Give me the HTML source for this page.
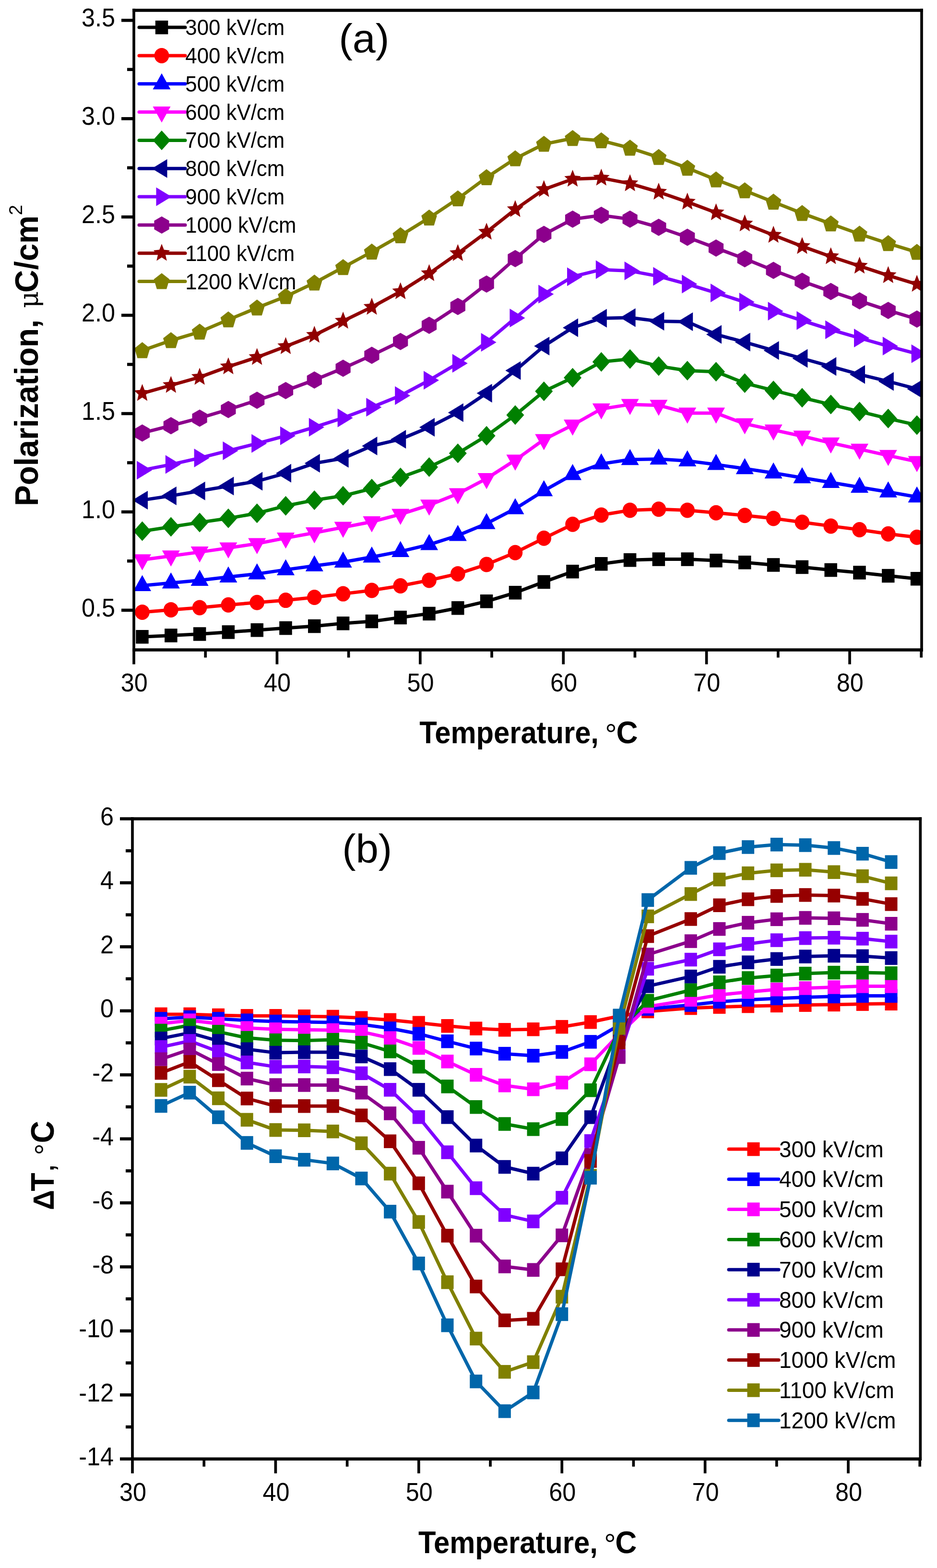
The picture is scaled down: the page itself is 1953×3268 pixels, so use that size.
<!DOCTYPE html>
<html><head><meta charset="utf-8"><title>Polarization and ΔT vs Temperature</title>
<style>html,body{margin:0;padding:0;background:#fff;}svg{display:block;}</style>
</head><body>
<svg width="1953" height="3268" viewBox="0 0 1953 3268">
<rect width="1953" height="3268" fill="#fff"/>
<defs><clipPath id="ca"><rect x="279.0" y="21.4" width="1642.0" height="1333.1"/></clipPath><clipPath id="cb"><rect x="276.0" y="1706.5" width="1642.3" height="1334.1999999999998"/></clipPath></defs>
<g stroke-linejoin="round" stroke-linecap="round" clip-path="url(#ca)">
<polyline points="296.5,1327.3 356.3,1324.4 416.1,1321.4 475.9,1317.4 535.7,1313.3 595.5,1309 655.3,1305 715.1,1299.3 774.9,1295.1 834.7,1287 894.5,1278.9 954.3,1267.3 1014.1,1253.3 1073.9,1235.3 1133.7,1212.9 1193.5,1191.2 1253.3,1175.3 1313.1,1167.2 1372.9,1165.6 1432.7,1165.6 1492.5,1168.3 1552.3,1172.2 1612.1,1177.4 1671.9,1181.9 1731.7,1188 1791.5,1193.5 1851.3,1200.1 1911.1,1206.2" fill="none" stroke="#000000" stroke-width="7"/>
<rect x="283.2" y="1313" width="26.5" height="28.5" fill="#000000"/>
<rect x="343.1" y="1310.2" width="26.5" height="28.5" fill="#000000"/>
<rect x="402.9" y="1307.2" width="26.5" height="28.5" fill="#000000"/>
<rect x="462.6" y="1303.2" width="26.5" height="28.5" fill="#000000"/>
<rect x="522.5" y="1299" width="26.5" height="28.5" fill="#000000"/>
<rect x="582.2" y="1294.8" width="26.5" height="28.5" fill="#000000"/>
<rect x="642" y="1290.8" width="26.5" height="28.5" fill="#000000"/>
<rect x="701.8" y="1285" width="26.5" height="28.5" fill="#000000"/>
<rect x="761.6" y="1280.8" width="26.5" height="28.5" fill="#000000"/>
<rect x="821.4" y="1272.8" width="26.5" height="28.5" fill="#000000"/>
<rect x="881.2" y="1264.7" width="26.5" height="28.5" fill="#000000"/>
<rect x="941" y="1253" width="26.5" height="28.5" fill="#000000"/>
<rect x="1000.8" y="1239" width="26.5" height="28.5" fill="#000000"/>
<rect x="1060.7" y="1221" width="26.5" height="28.5" fill="#000000"/>
<rect x="1120.4" y="1198.7" width="26.5" height="28.5" fill="#000000"/>
<rect x="1180.2" y="1177" width="26.5" height="28.5" fill="#000000"/>
<rect x="1240" y="1161" width="26.5" height="28.5" fill="#000000"/>
<rect x="1299.8" y="1153" width="26.5" height="28.5" fill="#000000"/>
<rect x="1359.6" y="1151.3" width="26.5" height="28.5" fill="#000000"/>
<rect x="1419.5" y="1151.3" width="26.5" height="28.5" fill="#000000"/>
<rect x="1479.2" y="1154" width="26.5" height="28.5" fill="#000000"/>
<rect x="1539" y="1158" width="26.5" height="28.5" fill="#000000"/>
<rect x="1598.8" y="1163.2" width="26.5" height="28.5" fill="#000000"/>
<rect x="1658.6" y="1167.7" width="26.5" height="28.5" fill="#000000"/>
<rect x="1718.4" y="1173.8" width="26.5" height="28.5" fill="#000000"/>
<rect x="1778.2" y="1179.2" width="26.5" height="28.5" fill="#000000"/>
<rect x="1838" y="1185.8" width="26.5" height="28.5" fill="#000000"/>
<rect x="1897.8" y="1192" width="26.5" height="28.5" fill="#000000"/>
<polyline points="296.5,1275.9 356.3,1270.9 416.1,1266.4 475.9,1260.8 535.7,1255.7 595.5,1251.1 655.3,1245 715.1,1237.6 774.9,1230.4 834.7,1221 894.5,1209.4 954.3,1195.9 1014.1,1176.5 1073.9,1151.7 1133.7,1121.8 1193.5,1092.8 1253.3,1073.4 1313.1,1063.4 1372.9,1061.3 1432.7,1063.4 1492.5,1068.8 1552.3,1074.3 1612.1,1080.4 1671.9,1088.5 1731.7,1096.4 1791.5,1104 1851.3,1112.8 1911.1,1119.8" fill="none" stroke="#FF0000" stroke-width="7"/>
<ellipse cx="296.5" cy="1275.9" rx="15.3" ry="16" fill="#FF0000"/>
<ellipse cx="356.3" cy="1270.9" rx="15.3" ry="16" fill="#FF0000"/>
<ellipse cx="416.1" cy="1266.4" rx="15.3" ry="16" fill="#FF0000"/>
<ellipse cx="475.9" cy="1260.8" rx="15.3" ry="16" fill="#FF0000"/>
<ellipse cx="535.7" cy="1255.7" rx="15.3" ry="16" fill="#FF0000"/>
<ellipse cx="595.5" cy="1251.1" rx="15.3" ry="16" fill="#FF0000"/>
<ellipse cx="655.3" cy="1245" rx="15.3" ry="16" fill="#FF0000"/>
<ellipse cx="715.1" cy="1237.6" rx="15.3" ry="16" fill="#FF0000"/>
<ellipse cx="774.9" cy="1230.4" rx="15.3" ry="16" fill="#FF0000"/>
<ellipse cx="834.7" cy="1221" rx="15.3" ry="16" fill="#FF0000"/>
<ellipse cx="894.5" cy="1209.4" rx="15.3" ry="16" fill="#FF0000"/>
<ellipse cx="954.3" cy="1195.9" rx="15.3" ry="16" fill="#FF0000"/>
<ellipse cx="1014.1" cy="1176.5" rx="15.3" ry="16" fill="#FF0000"/>
<ellipse cx="1073.9" cy="1151.7" rx="15.3" ry="16" fill="#FF0000"/>
<ellipse cx="1133.7" cy="1121.8" rx="15.3" ry="16" fill="#FF0000"/>
<ellipse cx="1193.5" cy="1092.8" rx="15.3" ry="16" fill="#FF0000"/>
<ellipse cx="1253.3" cy="1073.4" rx="15.3" ry="16" fill="#FF0000"/>
<ellipse cx="1313.1" cy="1063.4" rx="15.3" ry="16" fill="#FF0000"/>
<ellipse cx="1372.9" cy="1061.3" rx="15.3" ry="16" fill="#FF0000"/>
<ellipse cx="1432.7" cy="1063.4" rx="15.3" ry="16" fill="#FF0000"/>
<ellipse cx="1492.5" cy="1068.8" rx="15.3" ry="16" fill="#FF0000"/>
<ellipse cx="1552.3" cy="1074.3" rx="15.3" ry="16" fill="#FF0000"/>
<ellipse cx="1612.1" cy="1080.4" rx="15.3" ry="16" fill="#FF0000"/>
<ellipse cx="1671.9" cy="1088.5" rx="15.3" ry="16" fill="#FF0000"/>
<ellipse cx="1731.7" cy="1096.4" rx="15.3" ry="16" fill="#FF0000"/>
<ellipse cx="1791.5" cy="1104" rx="15.3" ry="16" fill="#FF0000"/>
<ellipse cx="1851.3" cy="1112.8" rx="15.3" ry="16" fill="#FF0000"/>
<ellipse cx="1911.1" cy="1119.8" rx="15.3" ry="16" fill="#FF0000"/>
<polyline points="296.5,1220.4 356.3,1215.1 416.1,1209.4 475.9,1202.6 535.7,1196.1 595.5,1187.4 655.3,1179.3 715.1,1171.5 774.9,1161 834.7,1149.4 894.5,1135.1 954.3,1116 1014.1,1091.2 1073.9,1060.2 1133.7,1022.7 1193.5,989.1 1253.3,966.7 1313.1,957.8 1372.9,956.8 1432.7,960.5 1492.5,968.1 1552.3,976.7 1612.1,985.8 1671.9,995.8 1731.7,1005.5 1791.5,1015.5 1851.3,1025.2 1911.1,1035.8" fill="none" stroke="#0000FF" stroke-width="7"/>
<polygon points="296.5,1198.4 315,1231.9 278,1231.9" fill="#0000FF"/>
<polygon points="356.3,1193.1 374.8,1226.6 337.8,1226.6" fill="#0000FF"/>
<polygon points="416.1,1187.4 434.6,1220.9 397.6,1220.9" fill="#0000FF"/>
<polygon points="475.9,1180.6 494.4,1214.1 457.4,1214.1" fill="#0000FF"/>
<polygon points="535.7,1174.1 554.2,1207.6 517.2,1207.6" fill="#0000FF"/>
<polygon points="595.5,1165.4 614,1198.9 577,1198.9" fill="#0000FF"/>
<polygon points="655.3,1157.3 673.8,1190.8 636.8,1190.8" fill="#0000FF"/>
<polygon points="715.1,1149.5 733.6,1183 696.6,1183" fill="#0000FF"/>
<polygon points="774.9,1139 793.4,1172.5 756.4,1172.5" fill="#0000FF"/>
<polygon points="834.7,1127.4 853.2,1160.9 816.2,1160.9" fill="#0000FF"/>
<polygon points="894.5,1113.1 913,1146.6 876,1146.6" fill="#0000FF"/>
<polygon points="954.3,1094 972.8,1127.5 935.8,1127.5" fill="#0000FF"/>
<polygon points="1014.1,1069.2 1032.6,1102.7 995.6,1102.7" fill="#0000FF"/>
<polygon points="1073.9,1038.2 1092.4,1071.7 1055.4,1071.7" fill="#0000FF"/>
<polygon points="1133.7,1000.7 1152.2,1034.2 1115.2,1034.2" fill="#0000FF"/>
<polygon points="1193.5,967.1 1212,1000.6 1175,1000.6" fill="#0000FF"/>
<polygon points="1253.3,944.7 1271.8,978.2 1234.8,978.2" fill="#0000FF"/>
<polygon points="1313.1,935.8 1331.6,969.3 1294.6,969.3" fill="#0000FF"/>
<polygon points="1372.9,934.8 1391.4,968.3 1354.4,968.3" fill="#0000FF"/>
<polygon points="1432.7,938.5 1451.2,972 1414.2,972" fill="#0000FF"/>
<polygon points="1492.5,946.1 1511,979.6 1474,979.6" fill="#0000FF"/>
<polygon points="1552.3,954.7 1570.8,988.2 1533.8,988.2" fill="#0000FF"/>
<polygon points="1612.1,963.8 1630.6,997.3 1593.6,997.3" fill="#0000FF"/>
<polygon points="1671.9,973.8 1690.4,1007.3 1653.4,1007.3" fill="#0000FF"/>
<polygon points="1731.7,983.5 1750.2,1017 1713.2,1017" fill="#0000FF"/>
<polygon points="1791.5,993.5 1810,1027 1773,1027" fill="#0000FF"/>
<polygon points="1851.3,1003.2 1869.8,1036.7 1832.8,1036.7" fill="#0000FF"/>
<polygon points="1911.1,1013.8 1929.6,1047.3 1892.6,1047.3" fill="#0000FF"/>
<polyline points="296.5,1166.8 356.3,1158.7 416.1,1150.6 475.9,1142.1 535.7,1133 595.5,1121.4 655.3,1110.5 715.1,1099.1 774.9,1087.5 834.7,1071.9 894.5,1052.8 954.3,1029.1 1014.1,997.5 1073.9,959 1133.7,916.2 1193.5,886 1253.3,852.3 1313.1,842.9 1372.9,844.7 1432.7,860.9 1492.5,860.9 1552.3,883.2 1612.1,896.2 1671.9,909 1731.7,923.2 1791.5,936.2 1851.3,949.3 1911.1,962" fill="none" stroke="#FF00FF" stroke-width="7"/>
<polygon points="296.5,1188.8 315,1155.3 278,1155.3" fill="#FF00FF"/>
<polygon points="356.3,1180.7 374.8,1147.2 337.8,1147.2" fill="#FF00FF"/>
<polygon points="416.1,1172.6 434.6,1139.1 397.6,1139.1" fill="#FF00FF"/>
<polygon points="475.9,1164.1 494.4,1130.6 457.4,1130.6" fill="#FF00FF"/>
<polygon points="535.7,1155 554.2,1121.5 517.2,1121.5" fill="#FF00FF"/>
<polygon points="595.5,1143.4 614,1109.9 577,1109.9" fill="#FF00FF"/>
<polygon points="655.3,1132.5 673.8,1099 636.8,1099" fill="#FF00FF"/>
<polygon points="715.1,1121.1 733.6,1087.6 696.6,1087.6" fill="#FF00FF"/>
<polygon points="774.9,1109.5 793.4,1076 756.4,1076" fill="#FF00FF"/>
<polygon points="834.7,1093.9 853.2,1060.4 816.2,1060.4" fill="#FF00FF"/>
<polygon points="894.5,1074.8 913,1041.3 876,1041.3" fill="#FF00FF"/>
<polygon points="954.3,1051.1 972.8,1017.6 935.8,1017.6" fill="#FF00FF"/>
<polygon points="1014.1,1019.5 1032.6,986 995.6,986" fill="#FF00FF"/>
<polygon points="1073.9,981 1092.4,947.5 1055.4,947.5" fill="#FF00FF"/>
<polygon points="1133.7,938.2 1152.2,904.7 1115.2,904.7" fill="#FF00FF"/>
<polygon points="1193.5,908 1212,874.5 1175,874.5" fill="#FF00FF"/>
<polygon points="1253.3,874.3 1271.8,840.8 1234.8,840.8" fill="#FF00FF"/>
<polygon points="1313.1,864.9 1331.6,831.4 1294.6,831.4" fill="#FF00FF"/>
<polygon points="1372.9,866.7 1391.4,833.2 1354.4,833.2" fill="#FF00FF"/>
<polygon points="1432.7,882.9 1451.2,849.4 1414.2,849.4" fill="#FF00FF"/>
<polygon points="1492.5,882.9 1511,849.4 1474,849.4" fill="#FF00FF"/>
<polygon points="1552.3,905.2 1570.8,871.7 1533.8,871.7" fill="#FF00FF"/>
<polygon points="1612.1,918.2 1630.6,884.7 1593.6,884.7" fill="#FF00FF"/>
<polygon points="1671.9,931 1690.4,897.5 1653.4,897.5" fill="#FF00FF"/>
<polygon points="1731.7,945.2 1750.2,911.7 1713.2,911.7" fill="#FF00FF"/>
<polygon points="1791.5,958.2 1810,924.7 1773,924.7" fill="#FF00FF"/>
<polygon points="1851.3,971.3 1869.8,937.8 1832.8,937.8" fill="#FF00FF"/>
<polygon points="1911.1,984 1929.6,950.5 1892.6,950.5" fill="#FF00FF"/>
<polyline points="296.5,1107.1 356.3,1098 416.1,1088.9 475.9,1080.3 535.7,1069.7 595.5,1054.3 655.3,1042.4 715.1,1033.3 774.9,1018.3 834.7,995 894.5,973.4 954.3,944.7 1014.1,908.3 1073.9,865 1133.7,815.6 1193.5,787.3 1253.3,754.2 1313.1,748.2 1372.9,763.1 1432.7,772.5 1492.5,774.7 1552.3,798.6 1612.1,813.7 1671.9,828.9 1731.7,843.1 1791.5,857.7 1851.3,872.3 1911.1,885.9" fill="none" stroke="#008000" stroke-width="7"/>
<polygon points="296.5,1086.6 315,1107.1 296.5,1127.6 278,1107.1" fill="#008000"/>
<polygon points="356.3,1077.5 374.8,1098 356.3,1118.5 337.8,1098" fill="#008000"/>
<polygon points="416.1,1068.4 434.6,1088.9 416.1,1109.4 397.6,1088.9" fill="#008000"/>
<polygon points="475.9,1059.8 494.4,1080.3 475.9,1100.8 457.4,1080.3" fill="#008000"/>
<polygon points="535.7,1049.2 554.2,1069.7 535.7,1090.2 517.2,1069.7" fill="#008000"/>
<polygon points="595.5,1033.8 614,1054.3 595.5,1074.8 577,1054.3" fill="#008000"/>
<polygon points="655.3,1021.9 673.8,1042.4 655.3,1062.9 636.8,1042.4" fill="#008000"/>
<polygon points="715.1,1012.8 733.6,1033.3 715.1,1053.8 696.6,1033.3" fill="#008000"/>
<polygon points="774.9,997.8 793.4,1018.3 774.9,1038.8 756.4,1018.3" fill="#008000"/>
<polygon points="834.7,974.5 853.2,995 834.7,1015.5 816.2,995" fill="#008000"/>
<polygon points="894.5,952.9 913,973.4 894.5,993.9 876,973.4" fill="#008000"/>
<polygon points="954.3,924.2 972.8,944.7 954.3,965.2 935.8,944.7" fill="#008000"/>
<polygon points="1014.1,887.8 1032.6,908.3 1014.1,928.8 995.6,908.3" fill="#008000"/>
<polygon points="1073.9,844.5 1092.4,865 1073.9,885.5 1055.4,865" fill="#008000"/>
<polygon points="1133.7,795.1 1152.2,815.6 1133.7,836.1 1115.2,815.6" fill="#008000"/>
<polygon points="1193.5,766.8 1212,787.3 1193.5,807.8 1175,787.3" fill="#008000"/>
<polygon points="1253.3,733.7 1271.8,754.2 1253.3,774.7 1234.8,754.2" fill="#008000"/>
<polygon points="1313.1,727.7 1331.6,748.2 1313.1,768.7 1294.6,748.2" fill="#008000"/>
<polygon points="1372.9,742.6 1391.4,763.1 1372.9,783.6 1354.4,763.1" fill="#008000"/>
<polygon points="1432.7,752 1451.2,772.5 1432.7,793 1414.2,772.5" fill="#008000"/>
<polygon points="1492.5,754.2 1511,774.7 1492.5,795.2 1474,774.7" fill="#008000"/>
<polygon points="1552.3,778.1 1570.8,798.6 1552.3,819.1 1533.8,798.6" fill="#008000"/>
<polygon points="1612.1,793.2 1630.6,813.7 1612.1,834.2 1593.6,813.7" fill="#008000"/>
<polygon points="1671.9,808.4 1690.4,828.9 1671.9,849.4 1653.4,828.9" fill="#008000"/>
<polygon points="1731.7,822.6 1750.2,843.1 1731.7,863.6 1713.2,843.1" fill="#008000"/>
<polygon points="1791.5,837.2 1810,857.7 1791.5,878.2 1773,857.7" fill="#008000"/>
<polygon points="1851.3,851.8 1869.8,872.3 1851.3,892.8 1832.8,872.3" fill="#008000"/>
<polygon points="1911.1,865.4 1929.6,885.9 1911.1,906.4 1892.6,885.9" fill="#008000"/>
<polyline points="296.5,1042.4 356.3,1033.4 416.1,1023.2 475.9,1013.1 535.7,1003 595.5,986.3 655.3,965.6 715.1,955.3 774.9,929.4 834.7,915.4 894.5,890.4 954.3,859.9 1014.1,819.5 1073.9,772.3 1133.7,721.3 1193.5,683 1253.3,663.3 1313.1,662 1372.9,669.5 1432.7,670.6 1492.5,697 1552.3,713.1 1612.1,730.4 1671.9,747 1731.7,763.7 1791.5,780.4 1851.3,794.9 1911.1,810.7" fill="none" stroke="#00008C" stroke-width="7"/>
<polygon points="276,1042.4 308,1022.9 308,1061.9" fill="#00008C"/>
<polygon points="335.8,1033.4 367.8,1013.9 367.8,1052.9" fill="#00008C"/>
<polygon points="395.6,1023.2 427.6,1003.7 427.6,1042.7" fill="#00008C"/>
<polygon points="455.4,1013.1 487.4,993.6 487.4,1032.6" fill="#00008C"/>
<polygon points="515.2,1003 547.2,983.5 547.2,1022.5" fill="#00008C"/>
<polygon points="575,986.3 607,966.8 607,1005.8" fill="#00008C"/>
<polygon points="634.8,965.6 666.8,946.1 666.8,985.1" fill="#00008C"/>
<polygon points="694.6,955.3 726.6,935.8 726.6,974.8" fill="#00008C"/>
<polygon points="754.4,929.4 786.4,909.9 786.4,948.9" fill="#00008C"/>
<polygon points="814.2,915.4 846.2,895.9 846.2,934.9" fill="#00008C"/>
<polygon points="874,890.4 906,870.9 906,909.9" fill="#00008C"/>
<polygon points="933.8,859.9 965.8,840.4 965.8,879.4" fill="#00008C"/>
<polygon points="993.6,819.5 1025.6,800 1025.6,839" fill="#00008C"/>
<polygon points="1053.4,772.3 1085.4,752.8 1085.4,791.8" fill="#00008C"/>
<polygon points="1113.2,721.3 1145.2,701.8 1145.2,740.8" fill="#00008C"/>
<polygon points="1173,683 1205,663.5 1205,702.5" fill="#00008C"/>
<polygon points="1232.8,663.3 1264.8,643.8 1264.8,682.8" fill="#00008C"/>
<polygon points="1292.6,662 1324.6,642.5 1324.6,681.5" fill="#00008C"/>
<polygon points="1352.4,669.5 1384.4,650 1384.4,689" fill="#00008C"/>
<polygon points="1412.2,670.6 1444.2,651.1 1444.2,690.1" fill="#00008C"/>
<polygon points="1472,697 1504,677.5 1504,716.5" fill="#00008C"/>
<polygon points="1531.8,713.1 1563.8,693.6 1563.8,732.6" fill="#00008C"/>
<polygon points="1591.6,730.4 1623.6,710.9 1623.6,749.9" fill="#00008C"/>
<polygon points="1651.4,747 1683.4,727.5 1683.4,766.5" fill="#00008C"/>
<polygon points="1711.2,763.7 1743.2,744.2 1743.2,783.2" fill="#00008C"/>
<polygon points="1771,780.4 1803,760.9 1803,799.9" fill="#00008C"/>
<polygon points="1830.8,794.9 1862.8,775.4 1862.8,814.4" fill="#00008C"/>
<polygon points="1890.6,810.7 1922.6,791.2 1922.6,830.2" fill="#00008C"/>
<polyline points="296.5,979.9 356.3,968.1 416.1,954.6 475.9,939.4 535.7,924.3 595.5,908.3 655.3,890.4 715.1,871 774.9,848.8 834.7,824.6 894.5,792.6 954.3,757.2 1014.1,713.4 1073.9,662.8 1133.7,613.1 1193.5,576.7 1253.3,561.9 1313.1,564.6 1372.9,575.9 1432.7,592.1 1492.5,610.4 1552.3,629.6 1612.1,648.4 1671.9,668.1 1731.7,687.2 1791.5,704.5 1851.3,721.3 1911.1,737.3" fill="none" stroke="#8000FF" stroke-width="7"/>
<polygon points="317,979.9 285,960.4 285,999.4" fill="#8000FF"/>
<polygon points="376.8,968.1 344.8,948.6 344.8,987.6" fill="#8000FF"/>
<polygon points="436.6,954.6 404.6,935.1 404.6,974.1" fill="#8000FF"/>
<polygon points="496.4,939.4 464.4,919.9 464.4,958.9" fill="#8000FF"/>
<polygon points="556.2,924.3 524.2,904.8 524.2,943.8" fill="#8000FF"/>
<polygon points="616,908.3 584,888.8 584,927.8" fill="#8000FF"/>
<polygon points="675.8,890.4 643.8,870.9 643.8,909.9" fill="#8000FF"/>
<polygon points="735.6,871 703.6,851.5 703.6,890.5" fill="#8000FF"/>
<polygon points="795.4,848.8 763.4,829.3 763.4,868.3" fill="#8000FF"/>
<polygon points="855.2,824.6 823.2,805.1 823.2,844.1" fill="#8000FF"/>
<polygon points="915,792.6 883,773.1 883,812.1" fill="#8000FF"/>
<polygon points="974.8,757.2 942.8,737.7 942.8,776.7" fill="#8000FF"/>
<polygon points="1034.6,713.4 1002.6,693.9 1002.6,732.9" fill="#8000FF"/>
<polygon points="1094.4,662.8 1062.4,643.3 1062.4,682.3" fill="#8000FF"/>
<polygon points="1154.2,613.1 1122.2,593.6 1122.2,632.6" fill="#8000FF"/>
<polygon points="1214,576.7 1182,557.2 1182,596.2" fill="#8000FF"/>
<polygon points="1273.8,561.9 1241.8,542.4 1241.8,581.4" fill="#8000FF"/>
<polygon points="1333.6,564.6 1301.6,545.1 1301.6,584.1" fill="#8000FF"/>
<polygon points="1393.4,575.9 1361.4,556.4 1361.4,595.4" fill="#8000FF"/>
<polygon points="1453.2,592.1 1421.2,572.6 1421.2,611.6" fill="#8000FF"/>
<polygon points="1513,610.4 1481,590.9 1481,629.9" fill="#8000FF"/>
<polygon points="1572.8,629.6 1540.8,610.1 1540.8,649.1" fill="#8000FF"/>
<polygon points="1632.6,648.4 1600.6,628.9 1600.6,667.9" fill="#8000FF"/>
<polygon points="1692.4,668.1 1660.4,648.6 1660.4,687.6" fill="#8000FF"/>
<polygon points="1752.2,687.2 1720.2,667.7 1720.2,706.7" fill="#8000FF"/>
<polygon points="1812,704.5 1780,685 1780,724" fill="#8000FF"/>
<polygon points="1871.8,721.3 1839.8,701.8 1839.8,740.8" fill="#8000FF"/>
<polygon points="1931.6,737.3 1899.6,717.8 1899.6,756.8" fill="#8000FF"/>
<polyline points="296.5,902.4 356.3,887.2 416.1,871.4 475.9,853.5 535.7,834.3 595.5,814.1 655.3,791.9 715.1,767.6 774.9,740.6 834.7,711.7 894.5,678 954.3,638.7 1014.1,592.1 1073.9,539 1133.7,488.6 1193.5,456.8 1253.3,448.7 1313.1,456.8 1372.9,473.7 1432.7,494.5 1492.5,516.9 1552.3,539.2 1612.1,563.5 1671.9,586.2 1731.7,607.4 1791.5,627.1 1851.3,646.9 1911.1,665" fill="none" stroke="#8C008C" stroke-width="7"/>
<polygon points="296.5,884.4 312.1,893.4 312.1,911.4 296.5,920.4 280.9,911.4 280.9,893.4" fill="#8C008C"/>
<polygon points="356.3,869.2 371.9,878.2 371.9,896.2 356.3,905.2 340.7,896.2 340.7,878.2" fill="#8C008C"/>
<polygon points="416.1,853.4 431.7,862.4 431.7,880.4 416.1,889.4 400.5,880.4 400.5,862.4" fill="#8C008C"/>
<polygon points="475.9,835.5 491.5,844.5 491.5,862.5 475.9,871.5 460.3,862.5 460.3,844.5" fill="#8C008C"/>
<polygon points="535.7,816.3 551.3,825.3 551.3,843.3 535.7,852.3 520.1,843.3 520.1,825.3" fill="#8C008C"/>
<polygon points="595.5,796.1 611.1,805.1 611.1,823.1 595.5,832.1 579.9,823.1 579.9,805.1" fill="#8C008C"/>
<polygon points="655.3,773.9 670.9,782.9 670.9,800.9 655.3,809.9 639.7,800.9 639.7,782.9" fill="#8C008C"/>
<polygon points="715.1,749.6 730.7,758.6 730.7,776.6 715.1,785.6 699.5,776.6 699.5,758.6" fill="#8C008C"/>
<polygon points="774.9,722.6 790.5,731.6 790.5,749.6 774.9,758.6 759.3,749.6 759.3,731.6" fill="#8C008C"/>
<polygon points="834.7,693.7 850.3,702.7 850.3,720.7 834.7,729.7 819.1,720.7 819.1,702.7" fill="#8C008C"/>
<polygon points="894.5,660 910.1,669 910.1,687 894.5,696 878.9,687 878.9,669" fill="#8C008C"/>
<polygon points="954.3,620.7 969.9,629.7 969.9,647.7 954.3,656.7 938.7,647.7 938.7,629.7" fill="#8C008C"/>
<polygon points="1014.1,574.1 1029.7,583.1 1029.7,601.1 1014.1,610.1 998.5,601.1 998.5,583.1" fill="#8C008C"/>
<polygon points="1073.9,521 1089.5,530 1089.5,548 1073.9,557 1058.3,548 1058.3,530" fill="#8C008C"/>
<polygon points="1133.7,470.6 1149.3,479.6 1149.3,497.6 1133.7,506.6 1118.1,497.6 1118.1,479.6" fill="#8C008C"/>
<polygon points="1193.5,438.8 1209.1,447.8 1209.1,465.8 1193.5,474.8 1177.9,465.8 1177.9,447.8" fill="#8C008C"/>
<polygon points="1253.3,430.7 1268.9,439.7 1268.9,457.7 1253.3,466.7 1237.7,457.7 1237.7,439.7" fill="#8C008C"/>
<polygon points="1313.1,438.8 1328.7,447.8 1328.7,465.8 1313.1,474.8 1297.5,465.8 1297.5,447.8" fill="#8C008C"/>
<polygon points="1372.9,455.7 1388.5,464.7 1388.5,482.7 1372.9,491.7 1357.3,482.7 1357.3,464.7" fill="#8C008C"/>
<polygon points="1432.7,476.5 1448.3,485.5 1448.3,503.5 1432.7,512.5 1417.1,503.5 1417.1,485.5" fill="#8C008C"/>
<polygon points="1492.5,498.9 1508.1,507.9 1508.1,525.9 1492.5,534.9 1476.9,525.9 1476.9,507.9" fill="#8C008C"/>
<polygon points="1552.3,521.2 1567.9,530.2 1567.9,548.2 1552.3,557.2 1536.7,548.2 1536.7,530.2" fill="#8C008C"/>
<polygon points="1612.1,545.5 1627.7,554.5 1627.7,572.5 1612.1,581.5 1596.5,572.5 1596.5,554.5" fill="#8C008C"/>
<polygon points="1671.9,568.2 1687.5,577.2 1687.5,595.2 1671.9,604.2 1656.3,595.2 1656.3,577.2" fill="#8C008C"/>
<polygon points="1731.7,589.4 1747.3,598.4 1747.3,616.4 1731.7,625.4 1716.1,616.4 1716.1,598.4" fill="#8C008C"/>
<polygon points="1791.5,609.1 1807.1,618.1 1807.1,636.1 1791.5,645.1 1775.9,636.1 1775.9,618.1" fill="#8C008C"/>
<polygon points="1851.3,628.9 1866.9,637.9 1866.9,655.9 1851.3,664.9 1835.7,655.9 1835.7,637.9" fill="#8C008C"/>
<polygon points="1911.1,647 1926.7,656 1926.7,674 1911.1,683 1895.5,674 1895.5,656" fill="#8C008C"/>
<polyline points="296.5,819.8 356.3,803 416.1,786.1 475.9,764.2 535.7,744.7 595.5,722.1 655.3,698.5 715.1,669.1 774.9,640.1 834.7,607.7 894.5,570 954.3,528.2 1014.1,483.7 1073.9,436.5 1133.7,394.8 1193.5,373.2 1253.3,371 1313.1,382.6 1372.9,400.2 1432.7,420.9 1492.5,443.3 1552.3,466.4 1612.1,490.1 1671.9,513.4 1731.7,534.7 1791.5,554.4 1851.3,574.1 1911.1,592.3" fill="none" stroke="#900000" stroke-width="7"/>
<polygon points="296.5,800.3 301.3,812.7 313.7,813.8 304.3,822.5 307.2,835.6 296.5,828.6 285.8,835.6 288.7,822.5 279.3,813.8 291.7,812.7" fill="#900000"/>
<polygon points="356.3,783.5 361.1,795.9 373.5,797 364.1,805.7 367,818.8 356.3,811.8 345.6,818.8 348.5,805.7 339.1,797 351.5,795.9" fill="#900000"/>
<polygon points="416.1,766.6 420.9,779 433.3,780.1 423.9,788.9 426.8,801.9 416.1,794.9 405.4,801.9 408.3,788.9 398.9,780.1 411.3,779" fill="#900000"/>
<polygon points="475.9,744.7 480.7,757.1 493.1,758.2 483.7,767 486.6,780 475.9,773 465.2,780 468.1,767 458.7,758.2 471.1,757.1" fill="#900000"/>
<polygon points="535.7,725.2 540.5,737.6 552.9,738.7 543.5,747.4 546.4,760.5 535.7,753.5 525,760.5 527.9,747.4 518.5,738.7 530.9,737.6" fill="#900000"/>
<polygon points="595.5,702.6 600.3,715 612.7,716.1 603.3,724.8 606.2,737.9 595.5,730.9 584.8,737.9 587.7,724.8 578.3,716.1 590.7,715" fill="#900000"/>
<polygon points="655.3,679 660.1,691.4 672.5,692.5 663.1,701.3 666,714.3 655.3,707.3 644.6,714.3 647.5,701.3 638.1,692.5 650.5,691.4" fill="#900000"/>
<polygon points="715.1,649.6 719.9,662 732.3,663.1 722.9,671.8 725.8,684.9 715.1,677.9 704.4,684.9 707.3,671.8 697.9,663.1 710.3,662" fill="#900000"/>
<polygon points="774.9,620.6 779.7,633 792.1,634.1 782.7,642.8 785.6,655.9 774.9,648.9 764.2,655.9 767.1,642.8 757.7,634.1 770.1,633" fill="#900000"/>
<polygon points="834.7,588.2 839.5,600.6 851.9,601.7 842.5,610.4 845.4,623.5 834.7,616.5 824,623.5 826.9,610.4 817.5,601.7 829.9,600.6" fill="#900000"/>
<polygon points="894.5,550.5 899.3,562.9 911.7,564 902.3,572.7 905.2,585.8 894.5,578.8 883.8,585.8 886.7,572.7 877.3,564 889.7,562.9" fill="#900000"/>
<polygon points="954.3,508.7 959.1,521.1 971.5,522.2 962.1,530.9 965,544 954.3,537 943.6,544 946.5,530.9 937.1,522.2 949.5,521.1" fill="#900000"/>
<polygon points="1014.1,464.2 1018.9,476.6 1031.3,477.7 1021.9,486.4 1024.8,499.5 1014.1,492.5 1003.4,499.5 1006.3,486.4 996.9,477.7 1009.3,476.6" fill="#900000"/>
<polygon points="1073.9,417 1078.7,429.4 1091.1,430.5 1081.7,439.2 1084.6,452.3 1073.9,445.3 1063.2,452.3 1066.1,439.2 1056.7,430.5 1069.1,429.4" fill="#900000"/>
<polygon points="1133.7,375.3 1138.5,387.7 1150.9,388.8 1141.5,397.5 1144.4,410.6 1133.7,403.6 1123,410.6 1125.9,397.5 1116.5,388.8 1128.9,387.7" fill="#900000"/>
<polygon points="1193.5,353.7 1198.3,366.1 1210.7,367.2 1201.3,375.9 1204.2,389 1193.5,382 1182.8,389 1185.7,375.9 1176.3,367.2 1188.7,366.1" fill="#900000"/>
<polygon points="1253.3,351.5 1258.1,363.9 1270.5,365 1261.1,373.7 1264,386.8 1253.3,379.8 1242.6,386.8 1245.5,373.7 1236.1,365 1248.5,363.9" fill="#900000"/>
<polygon points="1313.1,363.1 1317.9,375.5 1330.3,376.6 1320.9,385.3 1323.8,398.4 1313.1,391.4 1302.4,398.4 1305.3,385.3 1295.9,376.6 1308.3,375.5" fill="#900000"/>
<polygon points="1372.9,380.7 1377.7,393.1 1390.1,394.2 1380.7,402.9 1383.6,416 1372.9,409 1362.2,416 1365.1,402.9 1355.7,394.2 1368.1,393.1" fill="#900000"/>
<polygon points="1432.7,401.4 1437.5,413.8 1449.9,414.9 1440.5,423.6 1443.4,436.7 1432.7,429.7 1422,436.7 1424.9,423.6 1415.5,414.9 1427.9,413.8" fill="#900000"/>
<polygon points="1492.5,423.8 1497.3,436.2 1509.7,437.3 1500.3,446 1503.2,459.1 1492.5,452.1 1481.8,459.1 1484.7,446 1475.3,437.3 1487.7,436.2" fill="#900000"/>
<polygon points="1552.3,446.9 1557.1,459.3 1569.5,460.4 1560.1,469.1 1563,482.2 1552.3,475.2 1541.6,482.2 1544.5,469.1 1535.1,460.4 1547.5,459.3" fill="#900000"/>
<polygon points="1612.1,470.6 1616.9,483 1629.3,484.1 1619.9,492.8 1622.8,505.9 1612.1,498.9 1601.4,505.9 1604.3,492.8 1594.9,484.1 1607.3,483" fill="#900000"/>
<polygon points="1671.9,493.9 1676.7,506.3 1689.1,507.4 1679.7,516.1 1682.6,529.2 1671.9,522.2 1661.2,529.2 1664.1,516.1 1654.7,507.4 1667.1,506.3" fill="#900000"/>
<polygon points="1731.7,515.2 1736.5,527.6 1748.9,528.7 1739.5,537.4 1742.4,550.5 1731.7,543.5 1721,550.5 1723.9,537.4 1714.5,528.7 1726.9,527.6" fill="#900000"/>
<polygon points="1791.5,534.9 1796.3,547.3 1808.7,548.4 1799.3,557.1 1802.2,570.2 1791.5,563.2 1780.8,570.2 1783.7,557.1 1774.3,548.4 1786.7,547.3" fill="#900000"/>
<polygon points="1851.3,554.6 1856.1,567 1868.5,568.1 1859.1,576.8 1862,589.9 1851.3,582.9 1840.6,589.9 1843.5,576.8 1834.1,568.1 1846.5,567" fill="#900000"/>
<polygon points="1911.1,572.8 1915.9,585.2 1928.3,586.3 1918.9,595 1921.8,608.1 1911.1,601.1 1900.4,608.1 1903.3,595 1893.9,586.3 1906.3,585.2" fill="#900000"/>
<polyline points="296.5,730.5 356.3,709.6 416.1,691.8 475.9,666.4 535.7,641.6 595.5,617.9 655.3,589.6 715.1,557.3 774.9,525 834.7,491 894.5,454.1 954.3,414.2 1014.1,370 1073.9,330.6 1133.7,300.4 1193.5,288.3 1253.3,293.2 1313.1,308.5 1372.9,327.9 1432.7,350.3 1492.5,374.6 1552.3,397.3 1612.1,421 1671.9,444.6 1731.7,466.4 1791.5,487.7 1851.3,507.4 1911.1,525.6" fill="none" stroke="#808000" stroke-width="7"/>
<polygon points="296.5,713.1 312.8,725.9 306.6,746.4 286.4,746.4 280.2,725.9" fill="#808000"/>
<polygon points="356.3,692.2 372.6,705 366.4,725.5 346.2,725.5 340,705" fill="#808000"/>
<polygon points="416.1,674.4 432.4,687.1 426.2,707.7 406,707.7 399.8,687.1" fill="#808000"/>
<polygon points="475.9,649 492.2,661.7 486,682.3 465.8,682.3 459.6,661.7" fill="#808000"/>
<polygon points="535.7,624.2 552,636.9 545.8,657.5 525.6,657.5 519.4,636.9" fill="#808000"/>
<polygon points="595.5,600.5 611.8,613.2 605.6,633.8 585.4,633.8 579.2,613.2" fill="#808000"/>
<polygon points="655.3,572.2 671.6,584.9 665.4,605.5 645.2,605.5 639,584.9" fill="#808000"/>
<polygon points="715.1,539.9 731.4,552.6 725.2,573.2 705,573.2 698.8,552.6" fill="#808000"/>
<polygon points="774.9,507.6 791.2,520.3 785,540.9 764.8,540.9 758.6,520.3" fill="#808000"/>
<polygon points="834.7,473.6 851,486.3 844.8,506.9 824.6,506.9 818.4,486.3" fill="#808000"/>
<polygon points="894.5,436.7 910.8,449.4 904.6,470 884.4,470 878.2,449.4" fill="#808000"/>
<polygon points="954.3,396.8 970.6,409.5 964.4,430.1 944.2,430.1 938,409.5" fill="#808000"/>
<polygon points="1014.1,352.6 1030.4,365.3 1024.2,385.9 1004,385.9 997.8,365.3" fill="#808000"/>
<polygon points="1073.9,313.2 1090.2,325.9 1084,346.5 1063.8,346.5 1057.6,325.9" fill="#808000"/>
<polygon points="1133.7,283 1150,295.7 1143.8,316.3 1123.6,316.3 1117.4,295.7" fill="#808000"/>
<polygon points="1193.5,270.9 1209.8,283.6 1203.6,304.2 1183.4,304.2 1177.2,283.6" fill="#808000"/>
<polygon points="1253.3,275.8 1269.6,288.5 1263.4,309.1 1243.2,309.1 1237,288.5" fill="#808000"/>
<polygon points="1313.1,291.1 1329.4,303.8 1323.2,324.4 1303,324.4 1296.8,303.8" fill="#808000"/>
<polygon points="1372.9,310.5 1389.2,323.2 1383,343.8 1362.8,343.8 1356.6,323.2" fill="#808000"/>
<polygon points="1432.7,332.9 1449,345.6 1442.8,366.2 1422.6,366.2 1416.4,345.6" fill="#808000"/>
<polygon points="1492.5,357.2 1508.8,369.9 1502.6,390.5 1482.4,390.5 1476.2,369.9" fill="#808000"/>
<polygon points="1552.3,379.9 1568.6,392.6 1562.4,413.2 1542.2,413.2 1536,392.6" fill="#808000"/>
<polygon points="1612.1,403.6 1628.4,416.3 1622.2,436.9 1602,436.9 1595.8,416.3" fill="#808000"/>
<polygon points="1671.9,427.2 1688.2,439.9 1682,460.5 1661.8,460.5 1655.6,439.9" fill="#808000"/>
<polygon points="1731.7,449 1748,461.7 1741.8,482.3 1721.6,482.3 1715.4,461.7" fill="#808000"/>
<polygon points="1791.5,470.3 1807.8,483 1801.6,503.6 1781.4,503.6 1775.2,483" fill="#808000"/>
<polygon points="1851.3,490 1867.6,502.7 1861.4,523.3 1841.2,523.3 1835,502.7" fill="#808000"/>
<polygon points="1911.1,508.2 1927.4,520.9 1921.2,541.5 1901,541.5 1894.8,520.9" fill="#808000"/>
</g>
<g stroke-linejoin="round" stroke-linecap="round" clip-path="url(#cb)">
<polyline points="335.7,2113.9 395.4,2113.9 455,2115.9 514.7,2117.3 574.4,2117.3 634.1,2118.3 693.8,2118.9 753.4,2121.6 813.1,2125.8 872.8,2131.8 932.5,2138.2 992.2,2143.6 1051.8,2146.3 1111.5,2145.2 1171.2,2140.2 1230.9,2130.2 1290.6,2117.7 1350.2,2108 1439.8,2101.1 1499.4,2098.7 1559.1,2097.1 1618.8,2095.8 1678.5,2094.6 1738.2,2093.8 1797.8,2092.6 1857.5,2091.8" fill="none" stroke="#FF0000" stroke-width="7"/>
<rect x="322.7" y="2099.6" width="26" height="28.5" fill="#FF0000"/>
<rect x="382.4" y="2099.6" width="26" height="28.5" fill="#FF0000"/>
<rect x="442" y="2101.7" width="26" height="28.5" fill="#FF0000"/>
<rect x="501.7" y="2103" width="26" height="28.5" fill="#FF0000"/>
<rect x="561.4" y="2103" width="26" height="28.5" fill="#FF0000"/>
<rect x="621.1" y="2104" width="26" height="28.5" fill="#FF0000"/>
<rect x="680.8" y="2104.7" width="26" height="28.5" fill="#FF0000"/>
<rect x="740.4" y="2107.4" width="26" height="28.5" fill="#FF0000"/>
<rect x="800.1" y="2111.6" width="26" height="28.5" fill="#FF0000"/>
<rect x="859.8" y="2117.5" width="26" height="28.5" fill="#FF0000"/>
<rect x="919.5" y="2124" width="26" height="28.5" fill="#FF0000"/>
<rect x="979.2" y="2129.4" width="26" height="28.5" fill="#FF0000"/>
<rect x="1038.8" y="2132.1" width="26" height="28.5" fill="#FF0000"/>
<rect x="1098.5" y="2131" width="26" height="28.5" fill="#FF0000"/>
<rect x="1158.2" y="2125.9" width="26" height="28.5" fill="#FF0000"/>
<rect x="1217.9" y="2115.9" width="26" height="28.5" fill="#FF0000"/>
<rect x="1277.6" y="2103.5" width="26" height="28.5" fill="#FF0000"/>
<rect x="1337.2" y="2093.7" width="26" height="28.5" fill="#FF0000"/>
<rect x="1426.8" y="2086.8" width="26" height="28.5" fill="#FF0000"/>
<rect x="1486.4" y="2084.4" width="26" height="28.5" fill="#FF0000"/>
<rect x="1546.1" y="2082.8" width="26" height="28.5" fill="#FF0000"/>
<rect x="1605.8" y="2081.6" width="26" height="28.5" fill="#FF0000"/>
<rect x="1665.5" y="2080.4" width="26" height="28.5" fill="#FF0000"/>
<rect x="1725.2" y="2079.6" width="26" height="28.5" fill="#FF0000"/>
<rect x="1784.8" y="2078.4" width="26" height="28.5" fill="#FF0000"/>
<rect x="1844.5" y="2077.5" width="26" height="28.5" fill="#FF0000"/>
<polyline points="335.7,2123.3 395.4,2119.9 455,2123.3 514.7,2126.7 574.4,2129 634.1,2130.1 693.8,2131.1 753.4,2135.1 813.1,2143.3 872.8,2154.7 932.5,2170.3 992.2,2185.4 1051.8,2196.2 1111.5,2200.2 1171.2,2192.5 1230.9,2171.3 1290.6,2136.6 1350.2,2102.7 1439.8,2094.6 1499.4,2087.8 1559.1,2083.7 1618.8,2080.9 1678.5,2078.5 1738.2,2076.8 1797.8,2075.6 1857.5,2075.6" fill="none" stroke="#0000FF" stroke-width="7"/>
<rect x="322.7" y="2109.1" width="26" height="28.5" fill="#0000FF"/>
<rect x="382.4" y="2105.7" width="26" height="28.5" fill="#0000FF"/>
<rect x="442" y="2109.1" width="26" height="28.5" fill="#0000FF"/>
<rect x="501.7" y="2112.4" width="26" height="28.5" fill="#0000FF"/>
<rect x="561.4" y="2114.8" width="26" height="28.5" fill="#0000FF"/>
<rect x="621.1" y="2115.8" width="26" height="28.5" fill="#0000FF"/>
<rect x="680.8" y="2116.8" width="26" height="28.5" fill="#0000FF"/>
<rect x="740.4" y="2120.9" width="26" height="28.5" fill="#0000FF"/>
<rect x="800.1" y="2129.1" width="26" height="28.5" fill="#0000FF"/>
<rect x="859.8" y="2140.4" width="26" height="28.5" fill="#0000FF"/>
<rect x="919.5" y="2156" width="26" height="28.5" fill="#0000FF"/>
<rect x="979.2" y="2171.1" width="26" height="28.5" fill="#0000FF"/>
<rect x="1038.8" y="2181.9" width="26" height="28.5" fill="#0000FF"/>
<rect x="1098.5" y="2186" width="26" height="28.5" fill="#0000FF"/>
<rect x="1158.2" y="2178.2" width="26" height="28.5" fill="#0000FF"/>
<rect x="1217.9" y="2157.1" width="26" height="28.5" fill="#0000FF"/>
<rect x="1277.6" y="2122.4" width="26" height="28.5" fill="#0000FF"/>
<rect x="1337.2" y="2088.5" width="26" height="28.5" fill="#0000FF"/>
<rect x="1426.8" y="2080.4" width="26" height="28.5" fill="#0000FF"/>
<rect x="1486.4" y="2073.5" width="26" height="28.5" fill="#0000FF"/>
<rect x="1546.1" y="2069.5" width="26" height="28.5" fill="#0000FF"/>
<rect x="1605.8" y="2066.6" width="26" height="28.5" fill="#0000FF"/>
<rect x="1665.5" y="2064.2" width="26" height="28.5" fill="#0000FF"/>
<rect x="1725.2" y="2062.6" width="26" height="28.5" fill="#0000FF"/>
<rect x="1784.8" y="2061.4" width="26" height="28.5" fill="#0000FF"/>
<rect x="1844.5" y="2061.4" width="26" height="28.5" fill="#0000FF"/>
<polyline points="335.7,2133.4 395.4,2126.7 455,2133.4 514.7,2142.5 574.4,2145.2 634.1,2146.2 693.8,2146.9 753.4,2150.3 813.1,2163.6 872.8,2184 932.5,2212.3 992.2,2240.1 1051.8,2262.2 1111.5,2270.3 1171.2,2256.2 1230.9,2218.1 1290.6,2155.5 1350.2,2097.9 1439.8,2083.7 1499.4,2073.6 1559.1,2067.5 1618.8,2062.3 1678.5,2059.5 1738.2,2057.4 1797.8,2055.4 1857.5,2055.4" fill="none" stroke="#FF00FF" stroke-width="7"/>
<rect x="322.7" y="2119.2" width="26" height="28.5" fill="#FF00FF"/>
<rect x="382.4" y="2112.4" width="26" height="28.5" fill="#FF00FF"/>
<rect x="442" y="2119.2" width="26" height="28.5" fill="#FF00FF"/>
<rect x="501.7" y="2128.3" width="26" height="28.5" fill="#FF00FF"/>
<rect x="561.4" y="2131" width="26" height="28.5" fill="#FF00FF"/>
<rect x="621.1" y="2132" width="26" height="28.5" fill="#FF00FF"/>
<rect x="680.8" y="2132.7" width="26" height="28.5" fill="#FF00FF"/>
<rect x="740.4" y="2136" width="26" height="28.5" fill="#FF00FF"/>
<rect x="800.1" y="2149.3" width="26" height="28.5" fill="#FF00FF"/>
<rect x="859.8" y="2169.8" width="26" height="28.5" fill="#FF00FF"/>
<rect x="919.5" y="2198.1" width="26" height="28.5" fill="#FF00FF"/>
<rect x="979.2" y="2225.9" width="26" height="28.5" fill="#FF00FF"/>
<rect x="1038.8" y="2248" width="26" height="28.5" fill="#FF00FF"/>
<rect x="1098.5" y="2256" width="26" height="28.5" fill="#FF00FF"/>
<rect x="1158.2" y="2242" width="26" height="28.5" fill="#FF00FF"/>
<rect x="1217.9" y="2203.9" width="26" height="28.5" fill="#FF00FF"/>
<rect x="1277.6" y="2141.2" width="26" height="28.5" fill="#FF00FF"/>
<rect x="1337.2" y="2083.6" width="26" height="28.5" fill="#FF00FF"/>
<rect x="1426.8" y="2069.5" width="26" height="28.5" fill="#FF00FF"/>
<rect x="1486.4" y="2059.4" width="26" height="28.5" fill="#FF00FF"/>
<rect x="1546.1" y="2053.3" width="26" height="28.5" fill="#FF00FF"/>
<rect x="1605.8" y="2048" width="26" height="28.5" fill="#FF00FF"/>
<rect x="1665.5" y="2045.2" width="26" height="28.5" fill="#FF00FF"/>
<rect x="1725.2" y="2043.2" width="26" height="28.5" fill="#FF00FF"/>
<rect x="1784.8" y="2041.2" width="26" height="28.5" fill="#FF00FF"/>
<rect x="1844.5" y="2041.2" width="26" height="28.5" fill="#FF00FF"/>
<polyline points="335.7,2147.9 395.4,2136.8 455,2150.3 514.7,2163.1 574.4,2168.1 634.1,2168.8 693.8,2167.1 753.4,2173.2 813.1,2191.3 872.8,2223.1 932.5,2264.4 992.2,2307.2 1051.8,2342.5 1111.5,2353.3 1171.2,2332.3 1230.9,2272.3 1290.6,2146 1350.2,2085.7 1439.8,2063.5 1499.4,2047.3 1559.1,2038.4 1618.8,2033.2 1678.5,2029.1 1738.2,2027.1 1797.8,2027.1 1857.5,2028.3" fill="none" stroke="#008000" stroke-width="7"/>
<rect x="322.7" y="2133.7" width="26" height="28.5" fill="#008000"/>
<rect x="382.4" y="2122.5" width="26" height="28.5" fill="#008000"/>
<rect x="442" y="2136" width="26" height="28.5" fill="#008000"/>
<rect x="501.7" y="2148.8" width="26" height="28.5" fill="#008000"/>
<rect x="561.4" y="2153.9" width="26" height="28.5" fill="#008000"/>
<rect x="621.1" y="2154.6" width="26" height="28.5" fill="#008000"/>
<rect x="680.8" y="2152.9" width="26" height="28.5" fill="#008000"/>
<rect x="740.4" y="2158.9" width="26" height="28.5" fill="#008000"/>
<rect x="800.1" y="2177.1" width="26" height="28.5" fill="#008000"/>
<rect x="859.8" y="2208.9" width="26" height="28.5" fill="#008000"/>
<rect x="919.5" y="2250.1" width="26" height="28.5" fill="#008000"/>
<rect x="979.2" y="2293" width="26" height="28.5" fill="#008000"/>
<rect x="1038.8" y="2328.3" width="26" height="28.5" fill="#008000"/>
<rect x="1098.5" y="2339.1" width="26" height="28.5" fill="#008000"/>
<rect x="1158.2" y="2318" width="26" height="28.5" fill="#008000"/>
<rect x="1217.9" y="2258" width="26" height="28.5" fill="#008000"/>
<rect x="1277.6" y="2131.8" width="26" height="28.5" fill="#008000"/>
<rect x="1337.2" y="2071.5" width="26" height="28.5" fill="#008000"/>
<rect x="1426.8" y="2049.2" width="26" height="28.5" fill="#008000"/>
<rect x="1486.4" y="2033.1" width="26" height="28.5" fill="#008000"/>
<rect x="1546.1" y="2024.2" width="26" height="28.5" fill="#008000"/>
<rect x="1605.8" y="2018.9" width="26" height="28.5" fill="#008000"/>
<rect x="1665.5" y="2014.9" width="26" height="28.5" fill="#008000"/>
<rect x="1725.2" y="2012.9" width="26" height="28.5" fill="#008000"/>
<rect x="1784.8" y="2012.9" width="26" height="28.5" fill="#008000"/>
<rect x="1844.5" y="2014.1" width="26" height="28.5" fill="#008000"/>
<polyline points="335.7,2164.4 395.4,2152.6 455,2169.5 514.7,2186.7 574.4,2194.1 634.1,2193.1 693.8,2193.1 753.4,2201.8 813.1,2228.2 872.8,2271.4 932.5,2328.2 992.2,2387.5 1051.8,2432 1111.5,2446 1171.2,2414.2 1230.9,2328.3 1290.6,2164.9 1350.2,2055.4 1439.8,2035.2 1499.4,2015 1559.1,2005.7 1618.8,1998.8 1678.5,1993.5 1738.2,1991.9 1797.8,1992.7 1857.5,1996.8" fill="none" stroke="#00008C" stroke-width="7"/>
<rect x="322.7" y="2150.2" width="26" height="28.5" fill="#00008C"/>
<rect x="382.4" y="2138.4" width="26" height="28.5" fill="#00008C"/>
<rect x="442" y="2155.2" width="26" height="28.5" fill="#00008C"/>
<rect x="501.7" y="2172.4" width="26" height="28.5" fill="#00008C"/>
<rect x="561.4" y="2179.8" width="26" height="28.5" fill="#00008C"/>
<rect x="621.1" y="2178.8" width="26" height="28.5" fill="#00008C"/>
<rect x="680.8" y="2178.8" width="26" height="28.5" fill="#00008C"/>
<rect x="740.4" y="2187.6" width="26" height="28.5" fill="#00008C"/>
<rect x="800.1" y="2214" width="26" height="28.5" fill="#00008C"/>
<rect x="859.8" y="2257.1" width="26" height="28.5" fill="#00008C"/>
<rect x="919.5" y="2314" width="26" height="28.5" fill="#00008C"/>
<rect x="979.2" y="2373.3" width="26" height="28.5" fill="#00008C"/>
<rect x="1038.8" y="2417.8" width="26" height="28.5" fill="#00008C"/>
<rect x="1098.5" y="2431.8" width="26" height="28.5" fill="#00008C"/>
<rect x="1158.2" y="2399.9" width="26" height="28.5" fill="#00008C"/>
<rect x="1217.9" y="2314.1" width="26" height="28.5" fill="#00008C"/>
<rect x="1277.6" y="2150.7" width="26" height="28.5" fill="#00008C"/>
<rect x="1337.2" y="2041.2" width="26" height="28.5" fill="#00008C"/>
<rect x="1426.8" y="2020.9" width="26" height="28.5" fill="#00008C"/>
<rect x="1486.4" y="2000.7" width="26" height="28.5" fill="#00008C"/>
<rect x="1546.1" y="1991.4" width="26" height="28.5" fill="#00008C"/>
<rect x="1605.8" y="1984.5" width="26" height="28.5" fill="#00008C"/>
<rect x="1665.5" y="1979.3" width="26" height="28.5" fill="#00008C"/>
<rect x="1725.2" y="1977.7" width="26" height="28.5" fill="#00008C"/>
<rect x="1784.8" y="1978.5" width="26" height="28.5" fill="#00008C"/>
<rect x="1844.5" y="1982.5" width="26" height="28.5" fill="#00008C"/>
<polyline points="335.7,2182.3 395.4,2169.5 455,2191.7 514.7,2214.3 574.4,2223.4 634.1,2222.7 693.8,2224.4 753.4,2236.9 813.1,2271.4 872.8,2328.2 932.5,2401.6 992.2,2476.5 1051.8,2532.2 1111.5,2545.7 1171.2,2496.4 1230.9,2378.1 1290.6,2200.8 1350.2,2019 1439.8,2000 1499.4,1978.6 1559.1,1967.3 1618.8,1959.6 1678.5,1955.1 1738.2,1954.3 1797.8,1956.3 1857.5,1962.4" fill="none" stroke="#8000FF" stroke-width="7"/>
<rect x="322.7" y="2168" width="26" height="28.5" fill="#8000FF"/>
<rect x="382.4" y="2155.2" width="26" height="28.5" fill="#8000FF"/>
<rect x="442" y="2177.5" width="26" height="28.5" fill="#8000FF"/>
<rect x="501.7" y="2200" width="26" height="28.5" fill="#8000FF"/>
<rect x="561.4" y="2209.1" width="26" height="28.5" fill="#8000FF"/>
<rect x="621.1" y="2208.5" width="26" height="28.5" fill="#8000FF"/>
<rect x="680.8" y="2210.1" width="26" height="28.5" fill="#8000FF"/>
<rect x="740.4" y="2222.6" width="26" height="28.5" fill="#8000FF"/>
<rect x="800.1" y="2257.1" width="26" height="28.5" fill="#8000FF"/>
<rect x="859.8" y="2314" width="26" height="28.5" fill="#8000FF"/>
<rect x="919.5" y="2387.3" width="26" height="28.5" fill="#8000FF"/>
<rect x="979.2" y="2462.2" width="26" height="28.5" fill="#8000FF"/>
<rect x="1038.8" y="2518" width="26" height="28.5" fill="#8000FF"/>
<rect x="1098.5" y="2531.4" width="26" height="28.5" fill="#8000FF"/>
<rect x="1158.2" y="2482.1" width="26" height="28.5" fill="#8000FF"/>
<rect x="1217.9" y="2363.9" width="26" height="28.5" fill="#8000FF"/>
<rect x="1277.6" y="2186.5" width="26" height="28.5" fill="#8000FF"/>
<rect x="1337.2" y="2004.8" width="26" height="28.5" fill="#8000FF"/>
<rect x="1426.8" y="1985.8" width="26" height="28.5" fill="#8000FF"/>
<rect x="1486.4" y="1964.3" width="26" height="28.5" fill="#8000FF"/>
<rect x="1546.1" y="1953" width="26" height="28.5" fill="#8000FF"/>
<rect x="1605.8" y="1945.3" width="26" height="28.5" fill="#8000FF"/>
<rect x="1665.5" y="1940.9" width="26" height="28.5" fill="#8000FF"/>
<rect x="1725.2" y="1940.1" width="26" height="28.5" fill="#8000FF"/>
<rect x="1784.8" y="1942.1" width="26" height="28.5" fill="#8000FF"/>
<rect x="1844.5" y="1948.2" width="26" height="28.5" fill="#8000FF"/>
<polyline points="335.7,2207.5 395.4,2187.3 455,2217.7 514.7,2248 574.4,2261.5 634.1,2261.5 693.8,2261.5 753.4,2277.3 813.1,2320.4 872.8,2392.1 932.5,2483.5 992.2,2575.3 1051.8,2639.5 1111.5,2646.8 1171.2,2574.8 1230.9,2407.4 1290.6,2203 1350.2,1989.5 1439.8,1961.6 1499.4,1936.1 1559.1,1923.2 1618.8,1915.9 1678.5,1913.1 1738.2,1913.9 1797.8,1917.1 1857.5,1925.2" fill="none" stroke="#8C008C" stroke-width="7"/>
<rect x="322.7" y="2193.3" width="26" height="28.5" fill="#8C008C"/>
<rect x="382.4" y="2173.1" width="26" height="28.5" fill="#8C008C"/>
<rect x="442" y="2203.4" width="26" height="28.5" fill="#8C008C"/>
<rect x="501.7" y="2233.7" width="26" height="28.5" fill="#8C008C"/>
<rect x="561.4" y="2247.2" width="26" height="28.5" fill="#8C008C"/>
<rect x="621.1" y="2247.2" width="26" height="28.5" fill="#8C008C"/>
<rect x="680.8" y="2247.2" width="26" height="28.5" fill="#8C008C"/>
<rect x="740.4" y="2263" width="26" height="28.5" fill="#8C008C"/>
<rect x="800.1" y="2306.2" width="26" height="28.5" fill="#8C008C"/>
<rect x="859.8" y="2377.9" width="26" height="28.5" fill="#8C008C"/>
<rect x="919.5" y="2469.3" width="26" height="28.5" fill="#8C008C"/>
<rect x="979.2" y="2561.1" width="26" height="28.5" fill="#8C008C"/>
<rect x="1038.8" y="2625.2" width="26" height="28.5" fill="#8C008C"/>
<rect x="1098.5" y="2632.5" width="26" height="28.5" fill="#8C008C"/>
<rect x="1158.2" y="2560.5" width="26" height="28.5" fill="#8C008C"/>
<rect x="1217.9" y="2393.1" width="26" height="28.5" fill="#8C008C"/>
<rect x="1277.6" y="2188.8" width="26" height="28.5" fill="#8C008C"/>
<rect x="1337.2" y="1975.2" width="26" height="28.5" fill="#8C008C"/>
<rect x="1426.8" y="1947.3" width="26" height="28.5" fill="#8C008C"/>
<rect x="1486.4" y="1921.9" width="26" height="28.5" fill="#8C008C"/>
<rect x="1546.1" y="1908.9" width="26" height="28.5" fill="#8C008C"/>
<rect x="1605.8" y="1901.6" width="26" height="28.5" fill="#8C008C"/>
<rect x="1665.5" y="1898.8" width="26" height="28.5" fill="#8C008C"/>
<rect x="1725.2" y="1899.6" width="26" height="28.5" fill="#8C008C"/>
<rect x="1784.8" y="1902.9" width="26" height="28.5" fill="#8C008C"/>
<rect x="1844.5" y="1911" width="26" height="28.5" fill="#8C008C"/>
<polyline points="335.7,2236.2 395.4,2213.3 455,2251.3 514.7,2289.4 574.4,2305.3 634.1,2305.3 693.8,2305.3 753.4,2324.8 813.1,2378.7 872.8,2466.3 932.5,2575.3 992.2,2681.3 1051.8,2751.9 1111.5,2748.7 1171.2,2645.4 1230.9,2419.6 1290.6,2172.6 1350.2,1951.1 1439.8,1915.5 1499.4,1886.8 1559.1,1874.2 1618.8,1867.4 1678.5,1865.4 1738.2,1866.6 1797.8,1873.4 1857.5,1884.4" fill="none" stroke="#960000" stroke-width="7"/>
<rect x="322.7" y="2221.9" width="26" height="28.5" fill="#960000"/>
<rect x="382.4" y="2199" width="26" height="28.5" fill="#960000"/>
<rect x="442" y="2237.1" width="26" height="28.5" fill="#960000"/>
<rect x="501.7" y="2275.2" width="26" height="28.5" fill="#960000"/>
<rect x="561.4" y="2291" width="26" height="28.5" fill="#960000"/>
<rect x="621.1" y="2291" width="26" height="28.5" fill="#960000"/>
<rect x="680.8" y="2291" width="26" height="28.5" fill="#960000"/>
<rect x="740.4" y="2310.5" width="26" height="28.5" fill="#960000"/>
<rect x="800.1" y="2364.4" width="26" height="28.5" fill="#960000"/>
<rect x="859.8" y="2452" width="26" height="28.5" fill="#960000"/>
<rect x="919.5" y="2561.1" width="26" height="28.5" fill="#960000"/>
<rect x="979.2" y="2667" width="26" height="28.5" fill="#960000"/>
<rect x="1038.8" y="2737.6" width="26" height="28.5" fill="#960000"/>
<rect x="1098.5" y="2734.4" width="26" height="28.5" fill="#960000"/>
<rect x="1158.2" y="2631.2" width="26" height="28.5" fill="#960000"/>
<rect x="1217.9" y="2405.4" width="26" height="28.5" fill="#960000"/>
<rect x="1277.6" y="2158.4" width="26" height="28.5" fill="#960000"/>
<rect x="1337.2" y="1936.8" width="26" height="28.5" fill="#960000"/>
<rect x="1426.8" y="1901.2" width="26" height="28.5" fill="#960000"/>
<rect x="1486.4" y="1872.5" width="26" height="28.5" fill="#960000"/>
<rect x="1546.1" y="1860" width="26" height="28.5" fill="#960000"/>
<rect x="1605.8" y="1853.1" width="26" height="28.5" fill="#960000"/>
<rect x="1665.5" y="1851.1" width="26" height="28.5" fill="#960000"/>
<rect x="1725.2" y="1852.3" width="26" height="28.5" fill="#960000"/>
<rect x="1784.8" y="1859.2" width="26" height="28.5" fill="#960000"/>
<rect x="1844.5" y="1870.1" width="26" height="28.5" fill="#960000"/>
<polyline points="335.7,2271.6 395.4,2243.9 455,2289.1 514.7,2333.9 574.4,2355.1 634.1,2355.8 693.8,2358.2 753.4,2382.7 813.1,2446 872.8,2546.8 932.5,2672.4 992.2,2789.9 1051.8,2859.2 1111.5,2838.9 1171.2,2702.6 1230.9,2450.6 1290.6,2142.5 1350.2,1909.8 1439.8,1863.3 1499.4,1833 1559.1,1820.1 1618.8,1814 1678.5,1812.8 1738.2,1817.6 1797.8,1826.1 1857.5,1841.1" fill="none" stroke="#808000" stroke-width="7"/>
<rect x="322.7" y="2257.3" width="26" height="28.5" fill="#808000"/>
<rect x="382.4" y="2229.7" width="26" height="28.5" fill="#808000"/>
<rect x="442" y="2274.8" width="26" height="28.5" fill="#808000"/>
<rect x="501.7" y="2319.6" width="26" height="28.5" fill="#808000"/>
<rect x="561.4" y="2340.9" width="26" height="28.5" fill="#808000"/>
<rect x="621.1" y="2341.5" width="26" height="28.5" fill="#808000"/>
<rect x="680.8" y="2343.9" width="26" height="28.5" fill="#808000"/>
<rect x="740.4" y="2368.5" width="26" height="28.5" fill="#808000"/>
<rect x="800.1" y="2431.8" width="26" height="28.5" fill="#808000"/>
<rect x="859.8" y="2532.6" width="26" height="28.5" fill="#808000"/>
<rect x="919.5" y="2658.1" width="26" height="28.5" fill="#808000"/>
<rect x="979.2" y="2775.6" width="26" height="28.5" fill="#808000"/>
<rect x="1038.8" y="2844.9" width="26" height="28.5" fill="#808000"/>
<rect x="1098.5" y="2824.7" width="26" height="28.5" fill="#808000"/>
<rect x="1158.2" y="2688.3" width="26" height="28.5" fill="#808000"/>
<rect x="1217.9" y="2436.3" width="26" height="28.5" fill="#808000"/>
<rect x="1277.6" y="2128.2" width="26" height="28.5" fill="#808000"/>
<rect x="1337.2" y="1895.6" width="26" height="28.5" fill="#808000"/>
<rect x="1426.8" y="1849.1" width="26" height="28.5" fill="#808000"/>
<rect x="1486.4" y="1818.8" width="26" height="28.5" fill="#808000"/>
<rect x="1546.1" y="1805.8" width="26" height="28.5" fill="#808000"/>
<rect x="1605.8" y="1799.7" width="26" height="28.5" fill="#808000"/>
<rect x="1665.5" y="1798.5" width="26" height="28.5" fill="#808000"/>
<rect x="1725.2" y="1803.4" width="26" height="28.5" fill="#808000"/>
<rect x="1784.8" y="1811.9" width="26" height="28.5" fill="#808000"/>
<rect x="1844.5" y="1826.8" width="26" height="28.5" fill="#808000"/>
<polyline points="335.7,2304.9 395.4,2277.3 455,2328.5 514.7,2382.1 574.4,2409.7 634.1,2417.1 693.8,2424.9 753.4,2456.2 813.1,2525.3 872.8,2633.3 932.5,2762.1 992.2,2879.1 1051.8,2941.1 1111.5,2902 1171.2,2738.9 1230.9,2454.5 1290.6,2116.6 1350.2,1875.9 1439.8,1808.7 1499.4,1778 1559.1,1765.5 1618.8,1760.2 1678.5,1761.4 1738.2,1767.5 1797.8,1779.2 1857.5,1796.6" fill="none" stroke="#0066AA" stroke-width="7"/>
<rect x="322.7" y="2290.7" width="26" height="28.5" fill="#0066AA"/>
<rect x="382.4" y="2263" width="26" height="28.5" fill="#0066AA"/>
<rect x="442" y="2314.3" width="26" height="28.5" fill="#0066AA"/>
<rect x="501.7" y="2367.8" width="26" height="28.5" fill="#0066AA"/>
<rect x="561.4" y="2395.5" width="26" height="28.5" fill="#0066AA"/>
<rect x="621.1" y="2402.9" width="26" height="28.5" fill="#0066AA"/>
<rect x="680.8" y="2410.6" width="26" height="28.5" fill="#0066AA"/>
<rect x="740.4" y="2441.9" width="26" height="28.5" fill="#0066AA"/>
<rect x="800.1" y="2511" width="26" height="28.5" fill="#0066AA"/>
<rect x="859.8" y="2619" width="26" height="28.5" fill="#0066AA"/>
<rect x="919.5" y="2747.9" width="26" height="28.5" fill="#0066AA"/>
<rect x="979.2" y="2864.9" width="26" height="28.5" fill="#0066AA"/>
<rect x="1038.8" y="2926.9" width="26" height="28.5" fill="#0066AA"/>
<rect x="1098.5" y="2887.8" width="26" height="28.5" fill="#0066AA"/>
<rect x="1158.2" y="2724.7" width="26" height="28.5" fill="#0066AA"/>
<rect x="1217.9" y="2440.3" width="26" height="28.5" fill="#0066AA"/>
<rect x="1277.6" y="2102.4" width="26" height="28.5" fill="#0066AA"/>
<rect x="1337.2" y="1861.6" width="26" height="28.5" fill="#0066AA"/>
<rect x="1426.8" y="1794.5" width="26" height="28.5" fill="#0066AA"/>
<rect x="1486.4" y="1763.8" width="26" height="28.5" fill="#0066AA"/>
<rect x="1546.1" y="1751.2" width="26" height="28.5" fill="#0066AA"/>
<rect x="1605.8" y="1746" width="26" height="28.5" fill="#0066AA"/>
<rect x="1665.5" y="1747.2" width="26" height="28.5" fill="#0066AA"/>
<rect x="1725.2" y="1753.2" width="26" height="28.5" fill="#0066AA"/>
<rect x="1784.8" y="1765" width="26" height="28.5" fill="#0066AA"/>
<rect x="1844.5" y="1782.4" width="26" height="28.5" fill="#0066AA"/>
</g>
<g stroke="#000" stroke-linecap="butt">
<line x1="276.1" y1="21.4" x2="1923.8" y2="21.4" stroke-width="6.5"/>
<line x1="276.1" y1="1354.5" x2="1923.8" y2="1354.5" stroke-width="6.5"/>
<line x1="279" y1="18.1" x2="279" y2="1357.8" stroke-width="5.7"/>
<line x1="1921" y1="18.1" x2="1921" y2="1357.8" stroke-width="5.7"/>
<line x1="273.1" y1="1706.5" x2="1921.1" y2="1706.5" stroke-width="6.5"/>
<line x1="273.1" y1="3040.7" x2="1921.1" y2="3040.7" stroke-width="6.5"/>
<line x1="276" y1="1703.2" x2="276" y2="3043.9" stroke-width="5.7"/>
<line x1="1918.3" y1="1703.2" x2="1918.3" y2="3043.9" stroke-width="5.7"/>
<line x1="253" y1="1271.8" x2="279" y2="1271.8" stroke-width="6.5"/>
<line x1="265" y1="1169.3" x2="279" y2="1169.3" stroke-width="6.5"/>
<line x1="253" y1="1066.9" x2="279" y2="1066.9" stroke-width="6.5"/>
<line x1="265" y1="964.4" x2="279" y2="964.4" stroke-width="6.5"/>
<line x1="253" y1="862" x2="279" y2="862" stroke-width="6.5"/>
<line x1="265" y1="759.5" x2="279" y2="759.5" stroke-width="6.5"/>
<line x1="253" y1="657.1" x2="279" y2="657.1" stroke-width="6.5"/>
<line x1="265" y1="554.6" x2="279" y2="554.6" stroke-width="6.5"/>
<line x1="253" y1="452.2" x2="279" y2="452.2" stroke-width="6.5"/>
<line x1="265" y1="349.7" x2="279" y2="349.7" stroke-width="6.5"/>
<line x1="253" y1="247.3" x2="279" y2="247.3" stroke-width="6.5"/>
<line x1="265" y1="144.8" x2="279" y2="144.8" stroke-width="6.5"/>
<line x1="253" y1="42.4" x2="279" y2="42.4" stroke-width="6.5"/>
<line x1="279" y1="1354.5" x2="279" y2="1384.5" stroke-width="5.7"/>
<line x1="428.2" y1="1354.5" x2="428.2" y2="1370.5" stroke-width="5.7"/>
<line x1="577.4" y1="1354.5" x2="577.4" y2="1384.5" stroke-width="5.7"/>
<line x1="726.6" y1="1354.5" x2="726.6" y2="1370.5" stroke-width="5.7"/>
<line x1="875.8" y1="1354.5" x2="875.8" y2="1384.5" stroke-width="5.7"/>
<line x1="1025" y1="1354.5" x2="1025" y2="1370.5" stroke-width="5.7"/>
<line x1="1174.2" y1="1354.5" x2="1174.2" y2="1384.5" stroke-width="5.7"/>
<line x1="1323.4" y1="1354.5" x2="1323.4" y2="1370.5" stroke-width="5.7"/>
<line x1="1472.6" y1="1354.5" x2="1472.6" y2="1384.5" stroke-width="5.7"/>
<line x1="1621.8" y1="1354.5" x2="1621.8" y2="1370.5" stroke-width="5.7"/>
<line x1="1771" y1="1354.5" x2="1771" y2="1384.5" stroke-width="5.7"/>
<line x1="1920.2" y1="1354.5" x2="1920.2" y2="1370.5" stroke-width="5.7"/>
<line x1="250" y1="1706.5" x2="276" y2="1706.5" stroke-width="6.5"/>
<line x1="262" y1="1773.2" x2="276" y2="1773.2" stroke-width="6.5"/>
<line x1="250" y1="1839.9" x2="276" y2="1839.9" stroke-width="6.5"/>
<line x1="262" y1="1906.6" x2="276" y2="1906.6" stroke-width="6.5"/>
<line x1="250" y1="1973.3" x2="276" y2="1973.3" stroke-width="6.5"/>
<line x1="262" y1="2040" x2="276" y2="2040" stroke-width="6.5"/>
<line x1="250" y1="2106.8" x2="276" y2="2106.8" stroke-width="6.5"/>
<line x1="262" y1="2173.5" x2="276" y2="2173.5" stroke-width="6.5"/>
<line x1="250" y1="2240.2" x2="276" y2="2240.2" stroke-width="6.5"/>
<line x1="262" y1="2306.9" x2="276" y2="2306.9" stroke-width="6.5"/>
<line x1="250" y1="2373.6" x2="276" y2="2373.6" stroke-width="6.5"/>
<line x1="262" y1="2440.3" x2="276" y2="2440.3" stroke-width="6.5"/>
<line x1="250" y1="2507" x2="276" y2="2507" stroke-width="6.5"/>
<line x1="262" y1="2573.7" x2="276" y2="2573.7" stroke-width="6.5"/>
<line x1="250" y1="2640.4" x2="276" y2="2640.4" stroke-width="6.5"/>
<line x1="262" y1="2707.1" x2="276" y2="2707.1" stroke-width="6.5"/>
<line x1="250" y1="2773.9" x2="276" y2="2773.9" stroke-width="6.5"/>
<line x1="262" y1="2840.6" x2="276" y2="2840.6" stroke-width="6.5"/>
<line x1="250" y1="2907.3" x2="276" y2="2907.3" stroke-width="6.5"/>
<line x1="262" y1="2974" x2="276" y2="2974" stroke-width="6.5"/>
<line x1="250" y1="3040.7" x2="276" y2="3040.7" stroke-width="6.5"/>
<line x1="276" y1="3040.7" x2="276" y2="3070.7" stroke-width="5.7"/>
<line x1="425.2" y1="3040.7" x2="425.2" y2="3056.7" stroke-width="5.7"/>
<line x1="574.4" y1="3040.7" x2="574.4" y2="3070.7" stroke-width="5.7"/>
<line x1="723.6" y1="3040.7" x2="723.6" y2="3056.7" stroke-width="5.7"/>
<line x1="872.8" y1="3040.7" x2="872.8" y2="3070.7" stroke-width="5.7"/>
<line x1="1022" y1="3040.7" x2="1022" y2="3056.7" stroke-width="5.7"/>
<line x1="1171.2" y1="3040.7" x2="1171.2" y2="3070.7" stroke-width="5.7"/>
<line x1="1320.4" y1="3040.7" x2="1320.4" y2="3056.7" stroke-width="5.7"/>
<line x1="1469.6" y1="3040.7" x2="1469.6" y2="3070.7" stroke-width="5.7"/>
<line x1="1618.8" y1="3040.7" x2="1618.8" y2="3056.7" stroke-width="5.7"/>
<line x1="1768" y1="3040.7" x2="1768" y2="3070.7" stroke-width="5.7"/>
<line x1="1917.2" y1="3040.7" x2="1917.2" y2="3056.7" stroke-width="5.7"/>
</g>
<text transform="translate(240,1284.7) scale(0.95,1)" font-family="Liberation Sans, Arial, sans-serif" font-size="53" text-anchor="end">0.5</text>
<text transform="translate(240,1079.8) scale(0.95,1)" font-family="Liberation Sans, Arial, sans-serif" font-size="53" text-anchor="end">1.0</text>
<text transform="translate(240,874.9) scale(0.95,1)" font-family="Liberation Sans, Arial, sans-serif" font-size="53" text-anchor="end">1.5</text>
<text transform="translate(240,670) scale(0.95,1)" font-family="Liberation Sans, Arial, sans-serif" font-size="53" text-anchor="end">2.0</text>
<text transform="translate(240,465.1) scale(0.95,1)" font-family="Liberation Sans, Arial, sans-serif" font-size="53" text-anchor="end">2.5</text>
<text transform="translate(240,260.2) scale(0.95,1)" font-family="Liberation Sans, Arial, sans-serif" font-size="53" text-anchor="end">3.0</text>
<text transform="translate(240,55.3) scale(0.95,1)" font-family="Liberation Sans, Arial, sans-serif" font-size="53" text-anchor="end">3.5</text>
<text transform="translate(279.7,1440.6) scale(0.95,1)" font-family="Liberation Sans, Arial, sans-serif" font-size="53" text-anchor="middle">30</text>
<text transform="translate(578.1,1440.6) scale(0.95,1)" font-family="Liberation Sans, Arial, sans-serif" font-size="53" text-anchor="middle">40</text>
<text transform="translate(876.5,1440.6) scale(0.95,1)" font-family="Liberation Sans, Arial, sans-serif" font-size="53" text-anchor="middle">50</text>
<text transform="translate(1174.9,1440.6) scale(0.95,1)" font-family="Liberation Sans, Arial, sans-serif" font-size="53" text-anchor="middle">60</text>
<text transform="translate(1473.3,1440.6) scale(0.95,1)" font-family="Liberation Sans, Arial, sans-serif" font-size="53" text-anchor="middle">70</text>
<text transform="translate(1771.7,1440.6) scale(0.95,1)" font-family="Liberation Sans, Arial, sans-serif" font-size="53" text-anchor="middle">80</text>
<text transform="translate(237,1719.9) scale(0.95,1)" font-family="Liberation Sans, Arial, sans-serif" font-size="53" text-anchor="end">6</text>
<text transform="translate(237,1853.3) scale(0.95,1)" font-family="Liberation Sans, Arial, sans-serif" font-size="53" text-anchor="end">4</text>
<text transform="translate(237,1986.7) scale(0.95,1)" font-family="Liberation Sans, Arial, sans-serif" font-size="53" text-anchor="end">2</text>
<text transform="translate(237,2120.2) scale(0.95,1)" font-family="Liberation Sans, Arial, sans-serif" font-size="53" text-anchor="end">0</text>
<text transform="translate(237,2253.6) scale(0.95,1)" font-family="Liberation Sans, Arial, sans-serif" font-size="53" text-anchor="end">-2</text>
<text transform="translate(237,2387) scale(0.95,1)" font-family="Liberation Sans, Arial, sans-serif" font-size="53" text-anchor="end">-4</text>
<text transform="translate(237,2520.4) scale(0.95,1)" font-family="Liberation Sans, Arial, sans-serif" font-size="53" text-anchor="end">-6</text>
<text transform="translate(237,2653.8) scale(0.95,1)" font-family="Liberation Sans, Arial, sans-serif" font-size="53" text-anchor="end">-8</text>
<text transform="translate(237,2787.3) scale(0.95,1)" font-family="Liberation Sans, Arial, sans-serif" font-size="53" text-anchor="end">-10</text>
<text transform="translate(237,2920.7) scale(0.95,1)" font-family="Liberation Sans, Arial, sans-serif" font-size="53" text-anchor="end">-12</text>
<text transform="translate(237,3054.1) scale(0.95,1)" font-family="Liberation Sans, Arial, sans-serif" font-size="53" text-anchor="end">-14</text>
<text transform="translate(277,3127.5) scale(0.95,1)" font-family="Liberation Sans, Arial, sans-serif" font-size="53" text-anchor="middle">30</text>
<text transform="translate(575.4,3127.5) scale(0.95,1)" font-family="Liberation Sans, Arial, sans-serif" font-size="53" text-anchor="middle">40</text>
<text transform="translate(873.8,3127.5) scale(0.95,1)" font-family="Liberation Sans, Arial, sans-serif" font-size="53" text-anchor="middle">50</text>
<text transform="translate(1172.2,3127.5) scale(0.95,1)" font-family="Liberation Sans, Arial, sans-serif" font-size="53" text-anchor="middle">60</text>
<text transform="translate(1470.6,3127.5) scale(0.95,1)" font-family="Liberation Sans, Arial, sans-serif" font-size="53" text-anchor="middle">70</text>
<text transform="translate(1769,3127.5) scale(0.95,1)" font-family="Liberation Sans, Arial, sans-serif" font-size="53" text-anchor="middle">80</text>
<text transform="translate(706.2,109.3) scale(1.025,1)" font-family="Liberation Sans, Arial, sans-serif" font-size="84">(a)</text>
<text transform="translate(713.2,1798.3) scale(1.013,1)" font-family="Liberation Sans, Arial, sans-serif" font-size="84">(b)</text>
<text transform="translate(874.2,1549) scale(0.933,1)" font-family="Liberation Sans, Arial, sans-serif" font-size="64" font-weight="bold">Temperature,</text>
<text transform="translate(1261.1,1552.4)" font-family="Liberation Sans, Arial, sans-serif" font-size="62">°</text>
<text transform="translate(1284.5,1549) scale(0.975,1)" font-family="Liberation Sans, Arial, sans-serif" font-size="64" font-weight="bold">C</text>
<text transform="translate(872,3236.9) scale(0.933,1)" font-family="Liberation Sans, Arial, sans-serif" font-size="64" font-weight="bold">Temperature,</text>
<text transform="translate(1258.9,3240.3)" font-family="Liberation Sans, Arial, sans-serif" font-size="62">°</text>
<text transform="translate(1282.3,3236.9) scale(0.975,1)" font-family="Liberation Sans, Arial, sans-serif" font-size="64" font-weight="bold">C</text>
<text transform="translate(79,1055) rotate(-90) scale(0.956,1)" font-family="Liberation Sans, Arial, sans-serif" font-size="68.5" font-weight="bold">Polarization,</text>
<text transform="translate(79,642) rotate(-90)" font-family="DejaVu Serif, Liberation Serif, serif" font-size="54">μ</text>
<text transform="translate(79,610) rotate(-90) scale(0.96,1)" font-family="Liberation Sans, Arial, sans-serif" font-size="68.5" font-weight="bold">C/cm</text>
<text transform="translate(46,448.5) rotate(-90)" font-family="Liberation Sans, Arial, sans-serif" font-size="39">2</text>
<text transform="translate(112,2522.1) rotate(-90) scale(0.966,1)" font-family="Liberation Sans, Arial, sans-serif" font-size="60.5" font-weight="bold">Δ</text>
<text transform="translate(112,2482.8) rotate(-90) scale(0.925,1)" font-family="Liberation Sans, Arial, sans-serif" font-size="68" font-weight="bold">T</text>
<text transform="translate(112,2443.8) rotate(-90)" font-family="Liberation Sans, Arial, sans-serif" font-size="68">,</text>
<text transform="translate(115.7,2407.7) rotate(-90)" font-family="Liberation Sans, Arial, sans-serif" font-size="62">°</text>
<text transform="translate(112,2382.4) rotate(-90) scale(0.95,1)" font-family="Liberation Sans, Arial, sans-serif" font-size="68" font-weight="bold">C</text>
<g>
<line x1="290" y1="57.1" x2="386" y2="57.1" stroke="#000000" stroke-width="7" stroke-linecap="round"/>
<rect x="323.8" y="42.9" width="26.5" height="28.5" fill="#000000"/>
<text transform="translate(386.3,73) scale(0.932,1)" font-family="Liberation Sans, Arial, sans-serif" font-size="47">300 kV/cm</text>
<line x1="290" y1="115.9" x2="386" y2="115.9" stroke="#FF0000" stroke-width="7" stroke-linecap="round"/>
<ellipse cx="337" cy="115.9" rx="15.3" ry="16" fill="#FF0000"/>
<text transform="translate(386.3,131.8) scale(0.932,1)" font-family="Liberation Sans, Arial, sans-serif" font-size="47">400 kV/cm</text>
<line x1="290" y1="174.8" x2="386" y2="174.8" stroke="#0000FF" stroke-width="7" stroke-linecap="round"/>
<polygon points="337,152.8 355.5,186.3 318.5,186.3" fill="#0000FF"/>
<text transform="translate(386.3,190.7) scale(0.932,1)" font-family="Liberation Sans, Arial, sans-serif" font-size="47">500 kV/cm</text>
<line x1="290" y1="233.6" x2="386" y2="233.6" stroke="#FF00FF" stroke-width="7" stroke-linecap="round"/>
<polygon points="337,255.6 355.5,222.1 318.5,222.1" fill="#FF00FF"/>
<text transform="translate(386.3,249.5) scale(0.932,1)" font-family="Liberation Sans, Arial, sans-serif" font-size="47">600 kV/cm</text>
<line x1="290" y1="292.4" x2="386" y2="292.4" stroke="#008000" stroke-width="7" stroke-linecap="round"/>
<polygon points="337,271.9 355.5,292.4 337,312.9 318.5,292.4" fill="#008000"/>
<text transform="translate(386.3,308.3) scale(0.932,1)" font-family="Liberation Sans, Arial, sans-serif" font-size="47">700 kV/cm</text>
<line x1="290" y1="351.2" x2="386" y2="351.2" stroke="#00008C" stroke-width="7" stroke-linecap="round"/>
<polygon points="316.5,351.2 348.5,331.8 348.5,370.8" fill="#00008C"/>
<text transform="translate(386.3,367.1) scale(0.932,1)" font-family="Liberation Sans, Arial, sans-serif" font-size="47">800 kV/cm</text>
<line x1="290" y1="410.1" x2="386" y2="410.1" stroke="#8000FF" stroke-width="7" stroke-linecap="round"/>
<polygon points="357.5,410.1 325.5,390.6 325.5,429.6" fill="#8000FF"/>
<text transform="translate(386.3,426) scale(0.932,1)" font-family="Liberation Sans, Arial, sans-serif" font-size="47">900 kV/cm</text>
<line x1="290" y1="468.9" x2="386" y2="468.9" stroke="#8C008C" stroke-width="7" stroke-linecap="round"/>
<polygon points="337,450.9 352.6,459.9 352.6,477.9 337,486.9 321.4,477.9 321.4,459.9" fill="#8C008C"/>
<text transform="translate(386.3,484.8) scale(0.932,1)" font-family="Liberation Sans, Arial, sans-serif" font-size="47">1000 kV/cm</text>
<line x1="290" y1="527.7" x2="386" y2="527.7" stroke="#900000" stroke-width="7" stroke-linecap="round"/>
<polygon points="337,508.2 341.8,520.6 354.2,521.7 344.8,530.5 347.7,543.5 337,536.5 326.3,543.5 329.2,530.5 319.8,521.7 332.2,520.6" fill="#900000"/>
<text transform="translate(386.3,543.6) scale(0.932,1)" font-family="Liberation Sans, Arial, sans-serif" font-size="47">1100 kV/cm</text>
<line x1="290" y1="586.6" x2="386" y2="586.6" stroke="#808000" stroke-width="7" stroke-linecap="round"/>
<polygon points="337,569.2 353.3,581.9 347.1,602.5 326.9,602.5 320.7,581.9" fill="#808000"/>
<text transform="translate(386.3,602.5) scale(0.932,1)" font-family="Liberation Sans, Arial, sans-serif" font-size="47">1200 kV/cm</text>
</g>
<g>
<line x1="1519" y1="2395" x2="1623" y2="2395" stroke="#FF0000" stroke-width="7" stroke-linecap="round"/>
<rect x="1557.5" y="2380.8" width="26" height="28.5" fill="#FF0000"/>
<text transform="translate(1623.9,2411.5) scale(0.955,1)" font-family="Liberation Sans, Arial, sans-serif" font-size="48.3">300 kV/cm</text>
<line x1="1519" y1="2457.8" x2="1623" y2="2457.8" stroke="#0000FF" stroke-width="7" stroke-linecap="round"/>
<rect x="1557.5" y="2443.6" width="26" height="28.5" fill="#0000FF"/>
<text transform="translate(1623.9,2474.3) scale(0.955,1)" font-family="Liberation Sans, Arial, sans-serif" font-size="48.3">400 kV/cm</text>
<line x1="1519" y1="2520.6" x2="1623" y2="2520.6" stroke="#FF00FF" stroke-width="7" stroke-linecap="round"/>
<rect x="1557.5" y="2506.3" width="26" height="28.5" fill="#FF00FF"/>
<text transform="translate(1623.9,2537.1) scale(0.955,1)" font-family="Liberation Sans, Arial, sans-serif" font-size="48.3">500 kV/cm</text>
<line x1="1519" y1="2583.4" x2="1623" y2="2583.4" stroke="#008000" stroke-width="7" stroke-linecap="round"/>
<rect x="1557.5" y="2569.2" width="26" height="28.5" fill="#008000"/>
<text transform="translate(1623.9,2599.9) scale(0.955,1)" font-family="Liberation Sans, Arial, sans-serif" font-size="48.3">600 kV/cm</text>
<line x1="1519" y1="2646.2" x2="1623" y2="2646.2" stroke="#00008C" stroke-width="7" stroke-linecap="round"/>
<rect x="1557.5" y="2631.9" width="26" height="28.5" fill="#00008C"/>
<text transform="translate(1623.9,2662.7) scale(0.955,1)" font-family="Liberation Sans, Arial, sans-serif" font-size="48.3">700 kV/cm</text>
<line x1="1519" y1="2709" x2="1623" y2="2709" stroke="#8000FF" stroke-width="7" stroke-linecap="round"/>
<rect x="1557.5" y="2694.8" width="26" height="28.5" fill="#8000FF"/>
<text transform="translate(1623.9,2725.5) scale(0.955,1)" font-family="Liberation Sans, Arial, sans-serif" font-size="48.3">800 kV/cm</text>
<line x1="1519" y1="2771.8" x2="1623" y2="2771.8" stroke="#8C008C" stroke-width="7" stroke-linecap="round"/>
<rect x="1557.5" y="2757.6" width="26" height="28.5" fill="#8C008C"/>
<text transform="translate(1623.9,2788.3) scale(0.955,1)" font-family="Liberation Sans, Arial, sans-serif" font-size="48.3">900 kV/cm</text>
<line x1="1519" y1="2834.6" x2="1623" y2="2834.6" stroke="#960000" stroke-width="7" stroke-linecap="round"/>
<rect x="1557.5" y="2820.3" width="26" height="28.5" fill="#960000"/>
<text transform="translate(1623.9,2851.1) scale(0.955,1)" font-family="Liberation Sans, Arial, sans-serif" font-size="48.3">1000 kV/cm</text>
<line x1="1519" y1="2897.4" x2="1623" y2="2897.4" stroke="#808000" stroke-width="7" stroke-linecap="round"/>
<rect x="1557.5" y="2883.2" width="26" height="28.5" fill="#808000"/>
<text transform="translate(1623.9,2913.9) scale(0.955,1)" font-family="Liberation Sans, Arial, sans-serif" font-size="48.3">1100 kV/cm</text>
<line x1="1519" y1="2960.2" x2="1623" y2="2960.2" stroke="#0066AA" stroke-width="7" stroke-linecap="round"/>
<rect x="1557.5" y="2945.9" width="26" height="28.5" fill="#0066AA"/>
<text transform="translate(1623.9,2976.7) scale(0.955,1)" font-family="Liberation Sans, Arial, sans-serif" font-size="48.3">1200 kV/cm</text>
</g>
</svg>
</body></html>
